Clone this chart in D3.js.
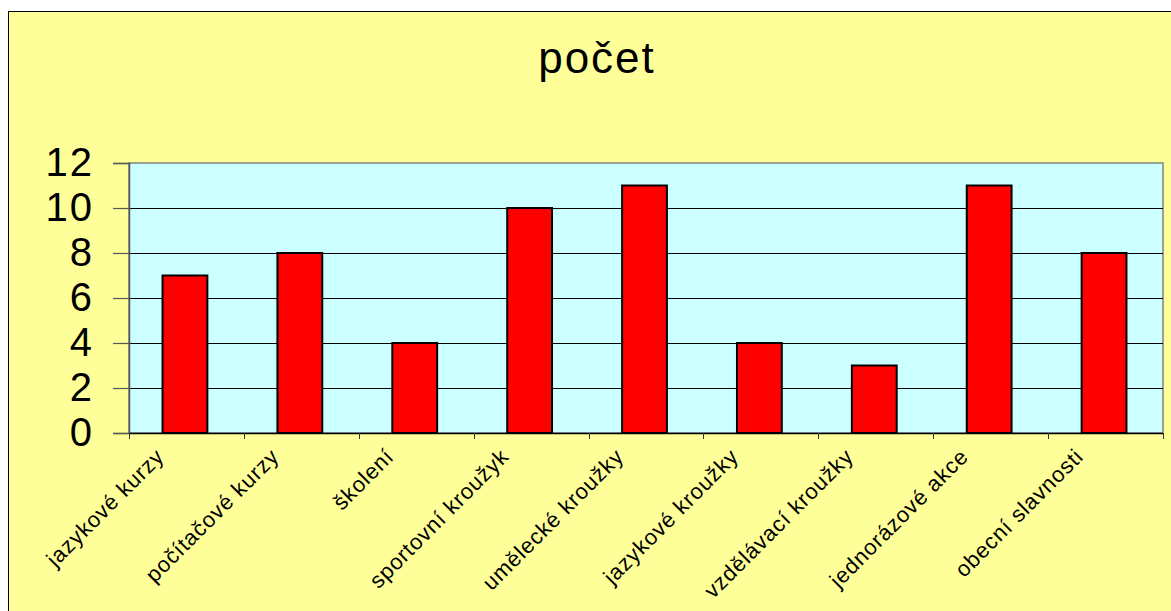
<!DOCTYPE html>
<html>
<head>
<meta charset="utf-8">
<script src="https://cdn.jsdelivr.net/npm/d3@7"></script>
<style>
  html, body { margin: 0; padding: 0; background: #ffffff; }
  svg { display: block; font-family: "Liberation Sans", Arial, sans-serif; }
</style>
</head>
<body>
<svg id="chart" width="1171" height="611"></svg>
<script>
// data
const categories = ["jazykové kurzy", "počítačové kurzy", "školení", "sportovní kroužyk",
  "umělecké kroužky", "jazykové kroužky", "vzdělávací kroužky", "jednorázové akce", "obecní slavnosti"];
const values = [7, 8, 4, 10, 11, 4, 3, 11, 8];
const yTicks = [0, 2, 4, 6, 8, 10, 12];
const title = "počet";

const PLOT = { left: 129, right: 1163, top: 163, bottom: 433 };

const svg = d3.select("#chart");

// chart area (runs past the right/bottom edge of the window)
svg.append("rect")
  .attr("x", 8.5).attr("y", 11.5)
  .attr("width", 1190).attr("height", 640)
  .attr("fill", "#ffff99")
  .attr("stroke", "#000").attr("stroke-width", 1);

svg.append("text")
  .attr("x", 597).attr("y", 73)
  .attr("text-anchor", "middle")
  .attr("font-size", 44)
  .attr("letter-spacing", 2)
  .text(title);

const x = d3.scaleBand().domain(categories).range([PLOT.left, PLOT.right]).padding(0);
const y = d3.scaleLinear().domain([0, 12]).range([PLOT.bottom, PLOT.top]);

// plot area
svg.append("rect")
  .attr("x", PLOT.left).attr("y", PLOT.top)
  .attr("width", PLOT.right - PLOT.left).attr("height", PLOT.bottom - PLOT.top)
  .attr("fill", "#ccffff")
  .attr("stroke", "#808080").attr("stroke-width", 1.5);

// gridlines
svg.append("g").selectAll("line")
  .data(yTicks.filter(d => d > 0 && d < 12))
  .join("line")
  .attr("x1", PLOT.left).attr("x2", PLOT.right)
  .attr("y1", d => Math.round(y(d)) + 0.5).attr("y2", d => Math.round(y(d)) + 0.5)
  .attr("stroke", "#000").attr("stroke-width", 1);

// y axis
const yAxis = svg.append("g")
  .attr("transform", `translate(${PLOT.left},0)`)
  .call(d3.axisLeft(y).tickValues(yTicks).tickSize(16).tickPadding(19).tickFormat(d3.format("d")));
yAxis.select(".domain").attr("stroke", "#555").attr("stroke-width", 1.5);
yAxis.selectAll(".tick line").attr("stroke", "#555").attr("stroke-width", 1.2);
yAxis.selectAll("text")
  .attr("font-size", 40)
  .attr("letter-spacing", 2)
  .attr("font-family", "Liberation Sans, Arial, sans-serif")
  .attr("fill", "#000");

// bars
const bw = x.bandwidth() * 0.39;
svg.append("g").selectAll("rect")
  .data(values)
  .join("rect")
  .attr("x", (d, i) => x(categories[i]) + (x.bandwidth() - bw) / 2 - 1.5)
  .attr("y", d => y(d))
  .attr("width", bw)
  .attr("height", d => y(0) - y(d))
  .attr("fill", "#ff0000")
  .attr("stroke", "#000").attr("stroke-width", 2);

// x axis baseline and ticks at band edges
const edges = categories.map(c => x(c)).concat([PLOT.right]);
svg.append("line")
  .attr("x1", PLOT.left).attr("x2", PLOT.right)
  .attr("y1", PLOT.bottom + 0.5).attr("y2", PLOT.bottom + 0.5)
  .attr("stroke", "#000").attr("stroke-width", 1.5);
svg.append("g").selectAll("line")
  .data(edges)
  .join("line")
  .attr("x1", d => Math.round(d) + 0.5).attr("x2", d => Math.round(d) + 0.5)
  .attr("y1", PLOT.bottom).attr("y2", PLOT.bottom + 6)
  .attr("stroke", "#333").attr("stroke-width", 1);

// category labels, rotated
svg.append("g").selectAll("text")
  .data(categories)
  .join("text")
  .attr("transform", d => `translate(${x(d) + x.bandwidth() / 2 - 21},458) rotate(-45)`)
  .attr("text-anchor", "end")
  .attr("font-size", 22)
  .attr("letter-spacing", 0.8)
  .attr("fill", "#000")
  .text(d => d);
</script>
</body>
</html>
